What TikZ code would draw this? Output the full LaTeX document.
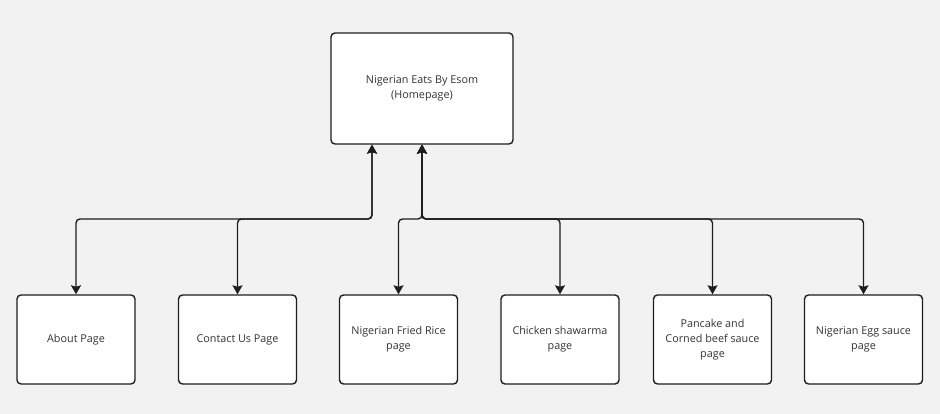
\documentclass[tikz,border=0pt]{standalone}
\usepackage{fontspec}
\setmainfont{Open Sans}
\usetikzlibrary{arrows.meta}
\definecolor{bg}{HTML}{F2F2F2}
\definecolor{ink}{HTML}{1E1E1E}
\definecolor{txt}{HTML}{333333}
\tikzset{
  pagebox/.style={draw=ink, line width=1.4pt, fill=white, rounded corners=4pt,
    minimum width=118pt, minimum height=89pt, align=center, text=txt,
    font=\fontsize{10.8}{15}\selectfont, inner sep=2pt},
  homebox/.style={pagebox, minimum width=182pt, minimum height=111pt},
  link/.style={draw=ink, line width=1.4pt, rounded corners=4pt,
    {Stealth[width=10pt,length=9pt,inset=1.5pt]}-{Stealth[width=10pt,length=9pt,inset=1.5pt]}}
}
\begin{document}
\begin{tikzpicture}[x=1pt,y=-1pt]
\fill[bg] (0,0) rectangle (940,414);
\useasboundingbox (0,0) rectangle (940,414);
\node[homebox] (home) at (422,88.5) {Nigerian Eats By Esom\\(Homepage)};
\node[pagebox] (about) at (76,339.5) {About Page};
\node[pagebox] (contact) at (237.5,339.5) {Contact Us Page};
\node[pagebox] (fried) at (398.5,339.5) {Nigerian Fried Rice\\page};
\node[pagebox] (chicken) at (560,339.5) {Chicken shawarma\\page};
\node[pagebox] (pancake) at (712.5,339.5) {Pancake and\\Corned beef sauce\\page};
\node[pagebox] (egg) at (863.5,339.5) {Nigerian Egg sauce\\page};
\coordinate (jl) at (372,219);
\coordinate (jr) at (422,219);
\foreach \c in {about,contact}
  \draw[link] (home.south -| jl) |- (\c.north |- jl) -- (\c.north);
\foreach \c in {fried,chicken,pancake,egg}
  \draw[link] (home.south -| jr) |- (\c.north |- jr) -- (\c.north);
\end{tikzpicture}
\end{document}
